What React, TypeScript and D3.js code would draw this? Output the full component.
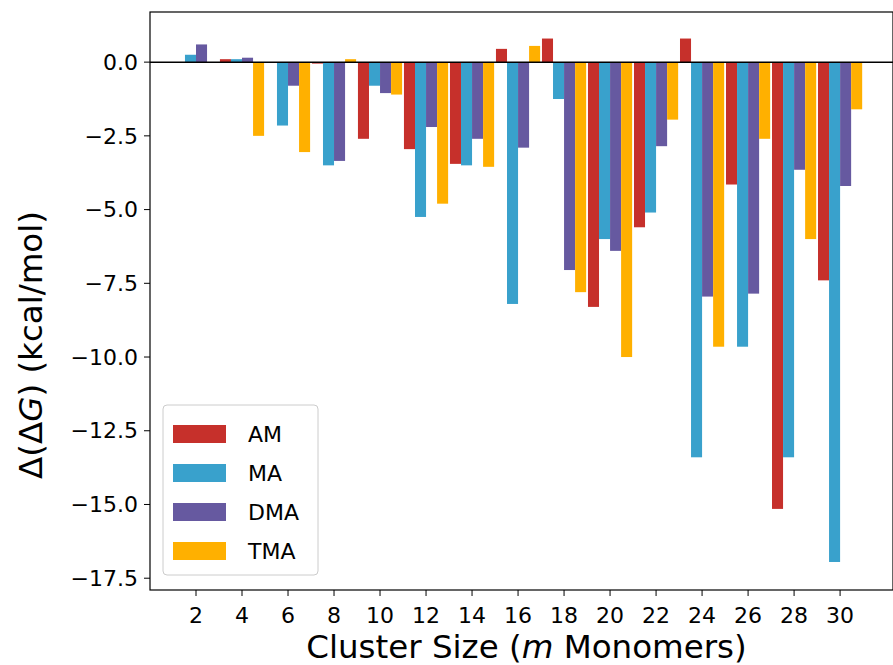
import React from "react";
import * as d3 from "d3";

const sizes = [2,4,6,8,10,12,14,16,18,20,22,24,26,28,30];
const seriesNames = ["AM","MA","DMA","TMA"];
const colors = ["#c6302b","#39a1cc","#6659a0","#ffb000"];
const AM = [0,0.1,0,-0.05,-2.6,-2.95,-3.45,0.45,0.8,-8.3,-5.6,0.8,-4.15,-15.15,-7.4];
const MA = [0.25,0.1,-2.15,-3.5,-0.8,-5.25,-3.5,-8.2,-1.25,-6.0,-5.1,-13.4,-9.65,-13.4,-16.95];
const DMA = [0.6,0.15,-0.8,-3.35,-1.05,-2.2,-2.6,-2.9,-7.05,-6.4,-2.85,-7.95,-7.85,-3.65,-4.2];
const TMA = [0,-2.5,-3.05,0.1,-1.1,-4.8,-3.55,0.55,-7.8,-10.0,-1.95,-9.65,-2.6,-6.0,-1.6];
const series = [AM, MA, DMA, TMA];
const yTicks = [0,-2.5,-5,-7.5,-10,-12.5,-15,-17.5];

export default function App() {
  const W = 893, H = 665;
  const L = 150, R = 893, T = 12, B = 590;
  const x = d3.scaleLinear().domain([0, 32.3]).range([L, R]);
  const y = d3.scaleLinear().domain([1.7, -17.9]).range([T, B]);
  const bw = x(0.48) - x(0);
  const font = "DejaVu Sans";
  const fmt = (v: number) => (v < 0 ? "\u2212" : "") + Math.abs(v).toFixed(1);
  return (
    <svg width={W} height={H} style={{ position: "absolute", left: 0, top: 0 }} fontFamily={font}>
      <rect width={W} height={H} fill="white" />
      {series.map((vals, si) =>
        vals.map((v, i) => {
          const cx = x(sizes[i]) + (si - 2) * bw;
          return <rect key={si + "-" + i} x={cx} width={bw} y={Math.min(y(v), y(0))} height={Math.abs(y(v) - y(0))} fill={colors[si]} />;
        })
      )}
      <line x1={L} x2={R} y1={y(0)} y2={y(0)} stroke="black" strokeWidth={1.5} />
      <rect x={L} y={T} width={R - L} height={B - T} fill="none" stroke="black" strokeWidth={1.2} />
      {yTicks.map((t) => (
        <g key={t}>
          <line x1={L - 6} x2={L} y1={y(t)} y2={y(t)} stroke="black" />
          <text x={L - 12} y={y(t)} dy="0.35em" textAnchor="end" fontSize={22}>{fmt(t)}</text>
        </g>
      ))}
      {sizes.map((s) => (
        <g key={s}>
          <line x1={x(s)} x2={x(s)} y1={B} y2={B + 6} stroke="black" />
          <text x={x(s)} y={B + 33} textAnchor="middle" fontSize={22}>{s}</text>
        </g>
      ))}
      <text x={(L + R) / 2 + 5} y={658} textAnchor="middle" fontSize={32.5}>
        Cluster Size (<tspan fontStyle="italic">m</tspan> Monomers)
      </text>
      <text transform={`translate(42,${(T + B) / 2 + 44}) rotate(-90)`} textAnchor="middle" fontSize={32.5}>
        Δ(Δ<tspan fontStyle="italic">G</tspan>) (kcal/mol)
      </text>
      <g>
        <rect x={163} y={405} width={155} height={170} rx={4} fill="white" stroke="#ccc" />
        {seriesNames.map((n, i) => (
          <g key={n}>
            <rect x={173} y={425 + i * 39} width={53} height={18} fill={colors[i]} />
            <text x={248} y={434 + i * 39} dy="0.36em" fontSize={22}>{n}</text>
          </g>
        ))}
      </g>
    </svg>
  );
}
